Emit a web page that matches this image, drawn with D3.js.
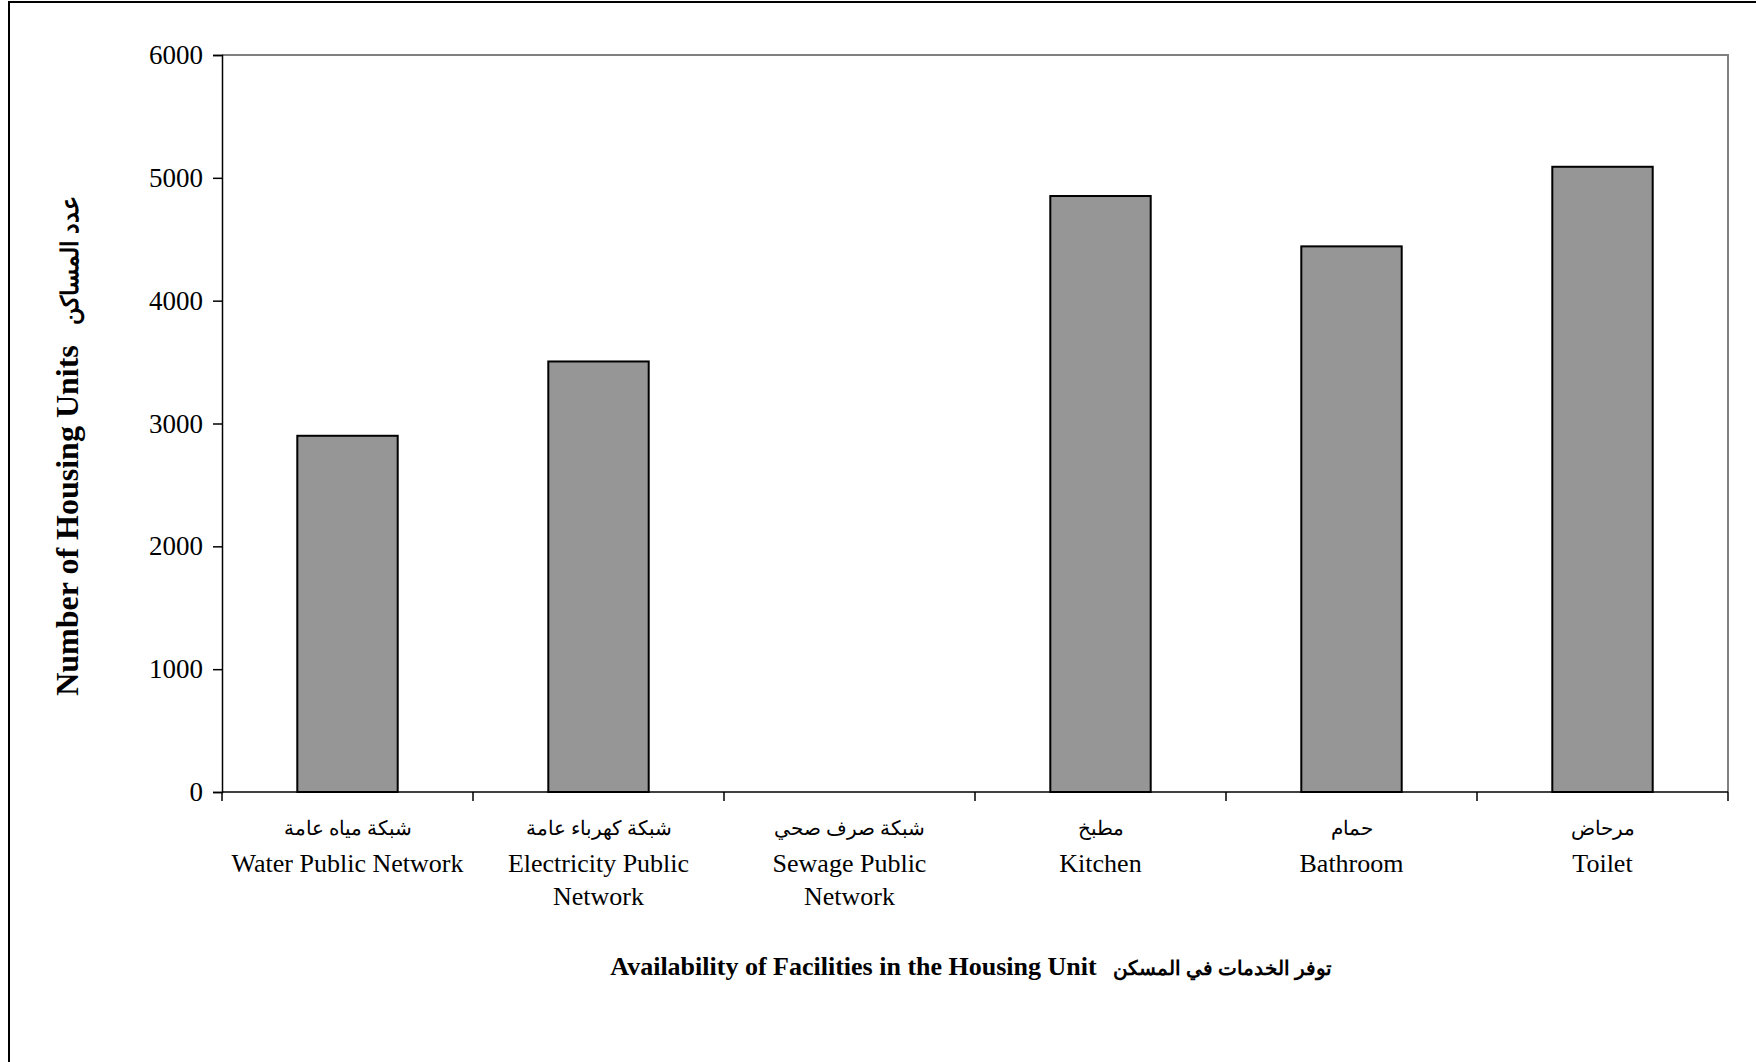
<!DOCTYPE html>
<html><head><meta charset="utf-8">
<script src="https://cdn.jsdelivr.net/npm/d3@7/dist/d3.min.js"></script>
<style>body{margin:0;background:#fff}svg{display:block}</style>
</head><body>
<svg id="c" width="1756" height="1062"></svg>
<script>
const categoriesAr = ["شبكة مياه عامة","شبكة كهرباء عامة","شبكة صرف صحي","مطبخ","حمام","مرحاض"];
const categoriesEn = [["Water Public Network"],["Electricity Public","Network"],["Sewage Public","Network"],["Kitchen"],["Bathroom"],["Toilet"]];
const values = [2900, 3505, 0, 4852, 4442, 5090];
const yTicks = [0,1000,2000,3000,4000,5000,6000];
const yTitleEn = "Number of Housing Units", yTitleAr = "عدد المساكن";
const xTitleEn = "Availability of Facilities in the Housing Unit", xTitleAr = "توفر الخدمات في المسكن";

const svg = d3.select("#c");
const font = "'Liberation Serif','Times New Roman','DejaVu Serif',serif";
const L=222, R=1728, T=55, B=792;

svg.append("rect").attr("x",9).attr("y",2).attr("width",1800).attr("height",1100)
  .attr("fill","none").attr("stroke","#000").attr("stroke-width",2);

const idx = d3.range(categoriesAr.length);
const x = d3.scaleBand().domain(idx).range([L,R]).paddingInner(0.6).paddingOuter(0.3);
const xb = d3.scaleBand().domain(idx).range([L,R]);
const y = d3.scaleLinear().domain([0,6000]).range([B,T]);

svg.append("path").attr("d",`M${L},${T}H${R}V${B}`).attr("fill","none").attr("stroke","#808080").attr("stroke-width",2);

svg.selectAll("rect.bar").data(idx.filter(i=>values[i]>0)).join("rect").attr("class","bar")
  .attr("x",i=>x(i)).attr("width",x.bandwidth())
  .attr("y",i=>y(values[i])).attr("height",i=>B-y(values[i]))
  .attr("fill","#969696").attr("stroke","#000").attr("stroke-width",2);

const ya = svg.append("g").attr("transform",`translate(${L},0)`)
  .call(d3.axisLeft(y).tickValues(yTicks).tickSize(9).tickPadding(10).tickFormat(d3.format("d")));
ya.select(".domain").attr("stroke","#000").attr("stroke-width",1.5);
ya.selectAll(".tick line").attr("stroke","#000").attr("stroke-width",1.5);
ya.selectAll("text").attr("font-family",font).attr("font-size",27).attr("fill","#000");

const xa = svg.append("g").attr("transform",`translate(0,${B})`);
xa.append("line").attr("x1",L).attr("x2",R).attr("stroke","#000").attr("stroke-width",1.5);
const bounds = idx.map(i=>xb(i)).concat([R]);
xa.selectAll("line.t").data(bounds).join("line").attr("class","t")
  .attr("x1",d=>d).attr("x2",d=>d).attr("y1",0).attr("y2",9).attr("stroke","#000").attr("stroke-width",1.5);

const lg = svg.append("g");
idx.forEach(i=>{
  const cx = xb(i)+xb.bandwidth()/2;
  lg.append("text").attr("x",cx).attr("y",835).attr("text-anchor","middle")
    .attr("font-family",font).attr("font-size",20).attr("direction","rtl").attr("unicode-bidi","plaintext").text(categoriesAr[i]);
  categoriesEn[i].forEach((s,k)=>{
    lg.append("text").attr("x",cx).attr("y",872+k*33).attr("text-anchor","middle")
      .attr("font-family",font).attr("font-size",26).text(s);
  });
});

const yt = svg.append("text").attr("transform","translate(78,446) rotate(-90)").attr("text-anchor","middle")
  .attr("font-family",font).attr("font-weight","bold");
yt.append("tspan").attr("font-size",32).text(yTitleEn);
yt.append("tspan").attr("font-size",24).attr("dx",20).text(yTitleAr);

const xt = svg.append("text").attr("x",971).attr("y",975).attr("text-anchor","middle")
  .attr("font-family",font).attr("font-weight","bold");
xt.append("tspan").attr("font-size",26).text(xTitleEn);
xt.append("tspan").attr("font-size",20).attr("dx",16).text(xTitleAr);
</script>
</body></html>
